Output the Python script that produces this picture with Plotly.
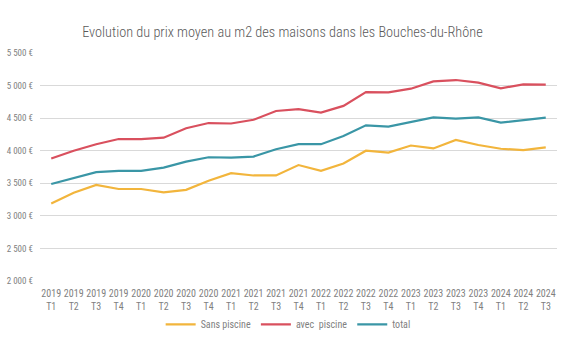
import plotly.graph_objects as go

years = ["2019"]*4 + ["2020"]*4 + ["2021"]*4 + ["2022"]*4 + ["2023"]*4 + ["2024"]*3
quarters = ["T1", "T2", "T3", "T4"]*5 + ["T1", "T2", "T3"]
categories = [f"{y}<br>{q}" for y, q in zip(years, quarters)]

sans_piscine = [3190, 3355, 3475, 3412, 3412, 3360, 3400, 3540, 3655, 3620, 3620, 3780,
                3690, 3805, 4000, 3970, 4080, 4035, 4165, 4088, 4030, 4010, 4050]
avec_piscine = [3880, 4000, 4100, 4180, 4178, 4200, 4345, 4425, 4418, 4475, 4610, 4638,
                4585, 4688, 4900, 4895, 4952, 5065, 5085, 5045, 4958, 5018, 5015]
total = [3490, 3585, 3670, 3690, 3690, 3740, 3832, 3900, 3895, 3910, 4022, 4100,
         4100, 4225, 4390, 4370, 4445, 4512, 4493, 4512, 4432, 4472, 4508]

y_ticks = [2000, 2500, 3000, 3500, 4000, 4500, 5000, 5500]
y_labels = [f"{v//1000} {v%1000:03d} €" for v in y_ticks]

FONT = "Roboto Condensed, Roboto, sans-serif"

fig = go.Figure()
for name, vals, color in [("Sans piscine", sans_piscine, "#F2B53C"),
                          ("avec  piscine", avec_piscine, "#D9505E"),
                          ("total", total, "#3A96A6")]:
    fig.add_trace(go.Scatter(x=categories, y=vals, name=name, mode="lines",
                             line=dict(color=color, width=2.2)))

fig.update_layout(
    width=580, height=342,
    margin=dict(l=40, r=23, t=53, b=61, autoexpand=False),
    paper_bgcolor="white", plot_bgcolor="white",
    font=dict(family=FONT, color="#7F7F7F", size=10),
    title=dict(text="Evolution du prix moyen au m2 des maisons dans les Bouches-du-Rhône",
               x=0.487, xanchor="center", y=0.905, yanchor="middle",
               font=dict(family=FONT, size=14.3, color="#595959", weight=300)),
    showlegend=True,
    legend=dict(orientation="h", x=0.48, xanchor="center", y=-0.19, yanchor="middle",
                font=dict(size=10, color="#7F7F7F"), itemwidth=30, tracegroupgap=0),
    xaxis=dict(type="category", range=[-0.5, 22.5], showgrid=False, showline=False,
               automargin=False, ticks="", ticklabelstandoff=5,
               tickfont=dict(size=10, color="#7F7F7F"), tickangle=0),
    yaxis=dict(range=[2000, 5500], tickvals=y_ticks, ticktext=y_labels,
               showgrid=True, gridcolor="#D9D9D9", gridwidth=1, zeroline=False,
               showline=False, ticks="", ticklen=0, automargin=False,
               ticklabelstandoff=6, tickfont=dict(size=9, color="#7F7F7F")),
)

fig.write_html("out.html")
